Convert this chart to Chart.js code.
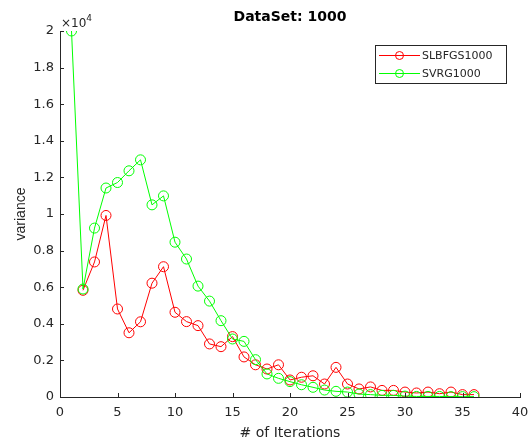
<!DOCTYPE html>
<html><head><meta charset="utf-8">
<script src="https://cdn.jsdelivr.net/npm/chart.js@4/dist/chart.umd.min.js"></script>
<style>html,body{margin:0;padding:0;background:#fff}#wrap{width:529px;height:443px}</style>
</head><body><div id="wrap"><canvas id="c" width="529" height="443"></canvas></div>
<script>
const chartTitle = 'DataSet: 1000';
const xTitle = '# of Iterations';
const yTitle = 'variance';
const seriesNames = ['SLBFGS1000', 'SVRG1000'];
const iterSLBFGS = [2,3,4,5,6,7,8,9,10,11,12,13,14,15,16,17,18,19,20,21,22,23,24,25,26,27,28,29,30,31,32,33,34,35,36];
const valSLBFGS = [5830,7380,9920,4810,3510,4110,6220,7120,4630,4120,3900,2900,2750,3300,2190,1760,1530,1760,930,1080,1160,710,1620,710,440,550,360,360,270,220,270,180,270,130,130];
const iterSVRG = [1,2,3,4,5,6,7,8,9,10,11,12,13,14,15,16,17,18,19,20,21,22,23,24,25,26,27,28,29,30,31,32,33,34,35,36];
const valSVRG = [20000,5900,9230,11420,11720,12360,12960,10500,10990,8460,7540,6060,5240,4170,3170,3040,2040,1260,1020,840,670,530,380,310,270,160,130,90,90,50,30,30,30,20,20,20];
const xMin = 0, xMax = 40, xStep = 5;
const yMin = 0, yMax = 20000, yStep = 2000;
const yExponent = 4;

const FONT = '"DejaVu Sans", Verdana, sans-serif';
const FONT_V = '"Liberation Sans", Arial, Helvetica, sans-serif';
const AX = '#262626';
const RED = 'rgb(255,0,0)';
const GREEN = 'rgb(0,255,0)';

const toPts = (xs, ys) => xs.map((x, i) => ({x, y: ys[i]}));

const decor = {
  id: 'decor',
  afterDraw(chart) {
    const {ctx, chartArea: a, scales: {x, y}} = chart;
    ctx.save();
    ctx.strokeStyle = AX; ctx.lineWidth = 1;
    ctx.beginPath();
    x.ticks.forEach(t => { const px = Math.round(x.getPixelForValue(t.value)) + 0.5; ctx.moveTo(px, a.bottom); ctx.lineTo(px, a.bottom - 4); });
    y.ticks.forEach(t => { const py = Math.round(y.getPixelForValue(t.value)) + 0.5; ctx.moveTo(a.left, py); ctx.lineTo(a.left + 4, py); });
    ctx.stroke();
    // exponent label
    ctx.fillStyle = AX;
    ctx.textBaseline = 'alphabetic'; ctx.textAlign = 'left';
    ctx.font = '12px ' + FONT;
    ctx.fillText('\u00d710', a.left + 1, a.top - 4);
    const w = ctx.measureText('\u00d710').width;
    ctx.font = '9px ' + FONT;
    ctx.fillText(String(yExponent), a.left + 1 + w, a.top - 10);
    // legend
    const lx = 375.5, ly = 45.5, lw = 131, lh = 38;
    ctx.fillStyle = '#fff'; ctx.fillRect(lx, ly, lw, lh);
    ctx.strokeStyle = AX; ctx.strokeRect(lx, ly, lw, lh);
    const ds = chart.data.datasets;
    [0, 1].forEach(i => {
      const d = ds.find(s => s.label === seriesNames[i]);
      const cy = 55.5 + i * 18;
      ctx.strokeStyle = d.borderColor; ctx.lineWidth = 1;
      ctx.beginPath(); ctx.moveTo(379, cy); ctx.lineTo(420, cy); ctx.stroke();
      ctx.beginPath(); ctx.arc(399.5, cy, 4, 0, Math.PI * 2); ctx.stroke();
      ctx.fillStyle = AX; ctx.font = '11px ' + FONT; ctx.textBaseline = 'middle'; ctx.textAlign = 'left';
      ctx.fillText(seriesNames[i], 422, cy + 1);
    });
    ctx.restore();
  }
};

new Chart(document.getElementById('c'), {
  type: 'line',
  data: {
    datasets: [
      {label: seriesNames[0], data: toPts(iterSLBFGS, valSLBFGS), borderColor: RED, backgroundColor: 'rgba(0,0,0,0)',
       borderWidth: 1, pointRadius: 5, pointBorderWidth: 1, pointBorderColor: RED, pointBackgroundColor: 'rgba(0,0,0,0)', tension: 0, order: 2},
      {label: seriesNames[1], data: toPts(iterSVRG, valSVRG), borderColor: GREEN, backgroundColor: 'rgba(0,0,0,0)',
       borderWidth: 1, pointRadius: 5, pointBorderWidth: 1, pointBorderColor: GREEN, pointBackgroundColor: 'rgba(0,0,0,0)', tension: 0, order: 1}
    ]
  },
  options: {
    responsive: false, animation: false, devicePixelRatio: 1,
    layout: {padding: {left: 0, right: 9, top: 0, bottom: 0}},
    plugins: {
      legend: {display: false}, tooltip: {enabled: false},
      title: {display: true, text: chartTitle, fullSize: false, color: '#000',
              font: {family: FONT, size: 14, weight: 'bold'}, padding: {top: 8.9, bottom: 5.3}}
    },
    scales: {
      x: {type: 'linear', min: xMin, max: xMax,
          ticks: {stepSize: xStep, color: AX, font: {family: FONT, size: 13}, padding: 8, maxRotation: 0},
          grid: {display: false, drawTicks: false},
          border: {display: true, color: AX, width: 1},
          title: {display: true, text: xTitle, color: AX, font: {family: FONT, size: 14}, padding: {top: 0, bottom: 1.6}},
          afterFit(s) { s.height = 46; s.paddingRight = 0; s.paddingLeft = 0; }},
      y: {type: 'linear', min: yMin, max: yMax,
          ticks: {stepSize: yStep, color: AX, font: {family: FONT, size: 13}, padding: 6,
                  callback: v => String(+(v / Math.pow(10, yExponent)).toFixed(1))},
          grid: {display: false, drawTicks: false},
          border: {display: true, color: AX, width: 1},
          title: {display: true, text: yTitle, color: AX, font: {family: FONT_V, size: 14}, padding: {top: 12.3, bottom: 0}},
          afterFit(s) { s.width = 60; }}
    }
  },
  plugins: [decor]
});
</script></body></html>
